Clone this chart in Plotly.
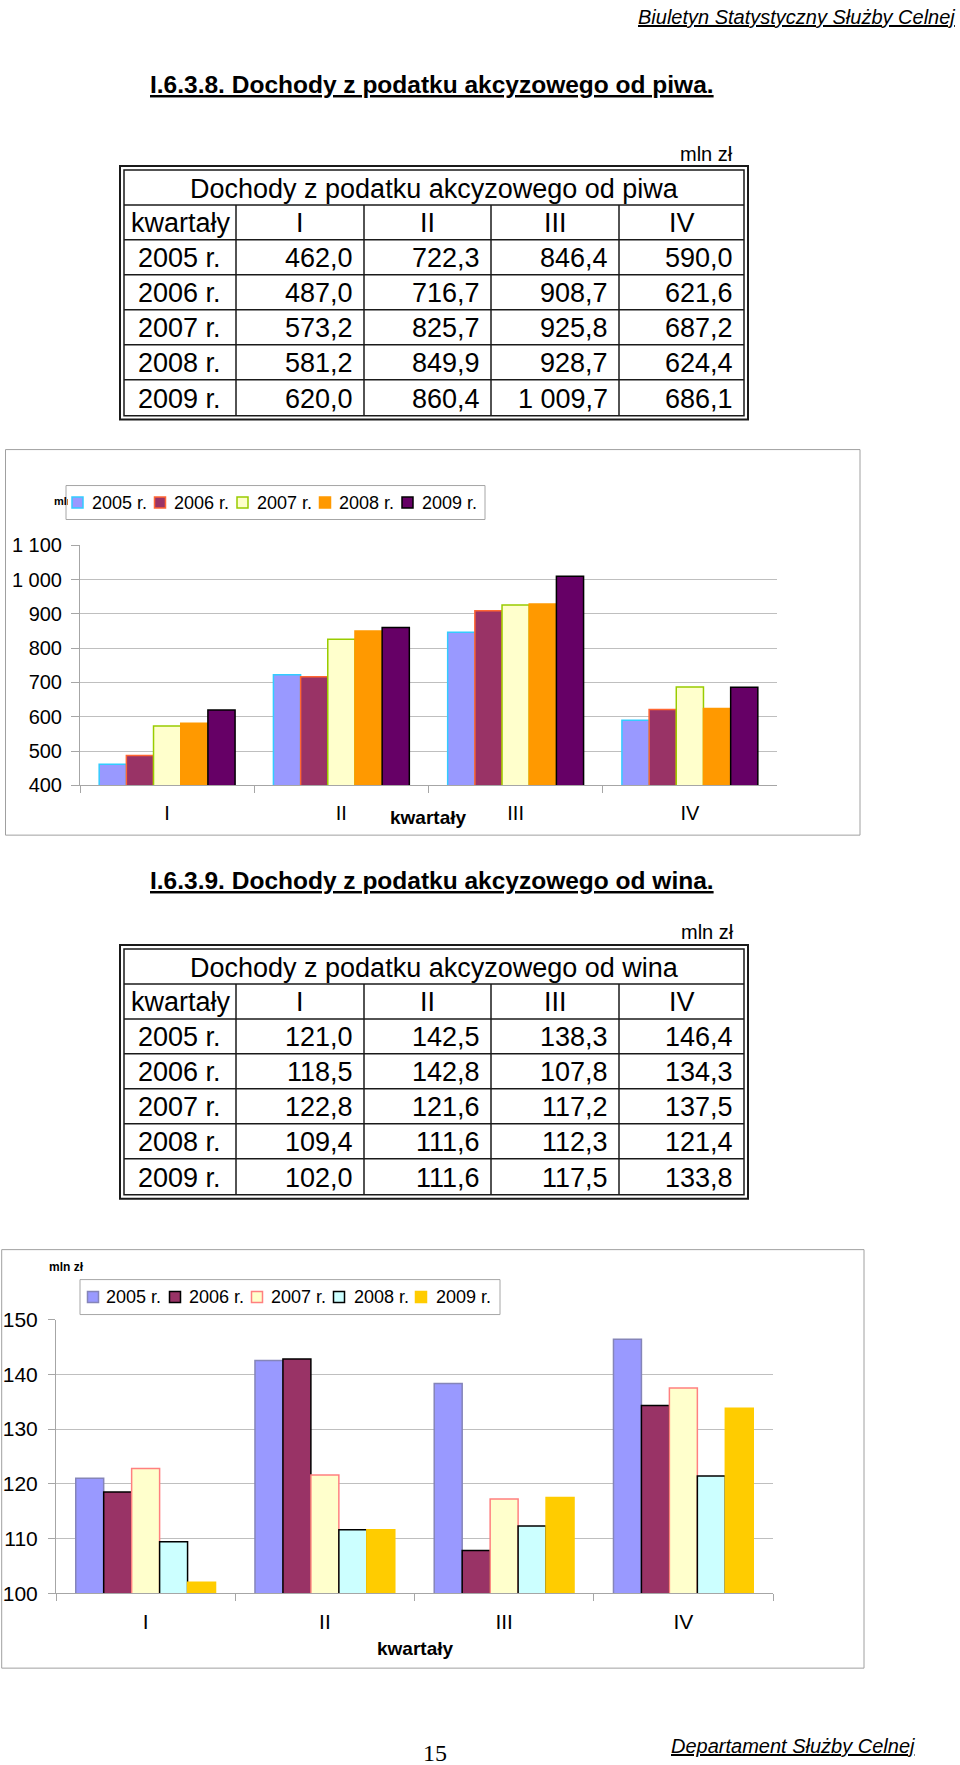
import plotly.graph_objects as go

# ---------------- data ----------------
quarters = ["I", "II", "III", "IV"]
years = ["2005 r.", "2006 r.", "2007 r.", "2008 r.", "2009 r."]

beer_2005 = [462.0, 722.3, 846.4, 590.0]
beer_2006 = [487.0, 716.7, 908.7, 621.6]
beer_2007 = [573.2, 825.7, 925.8, 687.2]
beer_2008 = [581.2, 849.9, 928.7, 624.4]
beer_2009 = [620.0, 860.4, 1009.7, 686.1]

wine_2005 = [121.0, 142.5, 138.3, 146.4]
wine_2006 = [118.5, 142.8, 107.8, 134.3]
wine_2007 = [122.8, 121.6, 117.2, 137.5]
wine_2008 = [109.4, 111.6, 112.3, 121.4]
wine_2009 = [102.0, 111.6, 117.5, 133.8]

beer_tickvals = [400, 500, 600, 700, 800, 900, 1000, 1100]
beer_ticktext = ["400", "500", "600", "700", "800", "900", "1 000", "1 100"]
wine_tickvals = [100, 110, 120, 130, 140, 150]
wine_ticktext = ["100", "110", "120", "130", "140", "150"]

header_text = "Biuletyn Statystyczny Służby Celnej"
footer_text = "Departament Służby Celnej"
page_number = "15"
beer_title = "I.6.3.8. Dochody z podatku akcyzowego od piwa."
wine_title = "I.6.3.9. Dochody z podatku akcyzowego od wina."
beer_table_title = "Dochody z podatku akcyzowego od piwa"
wine_table_title = "Dochody z podatku akcyzowego od wina"
unit = "mln zł"
axis_name = "kwartały"

beer_series = [beer_2005, beer_2006, beer_2007, beer_2008, beer_2009]
wine_series = [wine_2005, wine_2006, wine_2007, wine_2008, wine_2009]

# ---------------- style ----------------
W, H = 960, 1765
FONT = "Liberation Sans, Arial, sans-serif"
beer_fill = ["#9999FF", "#993366", "#FFFFCC", "#FF9900", "#660066"]
beer_line = ["#33CCFF", "#FF6633", "#99CC00", "#FF9900", "#000000"]
wine_fill = ["#9999FF", "#993366", "#FFFFCC", "#CCFFFF", "#FFCC00"]
wine_line = ["#8585B8", "#000000", "#FF8080", "#000000", "#FFCC00"]
GRID = "#BFBFBF"
AXIS = "#A6A6A6"


def px_x(x):
    return x / W


def px_y(y):
    y = y * 1.012 - 9
    return 1 - y / H


def fmt(v):
    s = f"{v:,.1f}"
    return s.replace(",", " ").replace(".", ",")


fig = go.Figure()

for i, yr in enumerate(years):
    fig.add_trace(go.Bar(
        x=quarters, y=beer_series[i], name=yr,
        marker=dict(color=beer_fill[i], line=dict(color=beer_line[i], width=1.5)),
        xaxis="x", yaxis="y", hoverinfo="skip"))
for i, yr in enumerate(years):
    fig.add_trace(go.Bar(
        x=quarters, y=wine_series[i], name=yr,
        marker=dict(color=wine_fill[i], line=dict(color=wine_line[i], width=1.5)),
        xaxis="x2", yaxis="y2", hoverinfo="skip"))

shapes = []
annotations = []


def line(x0, y0, x1, y1, w=1.5, color="#1a1a1a"):
    shapes.append(dict(type="line", xref="paper", yref="paper",
                       x0=px_x(x0), y0=px_y(y0), x1=px_x(x1), y1=px_y(y1),
                       line=dict(color=color, width=w)))


def rect(x0, y0, x1, y1, w=1, color="#1a1a1a", fill=None, layer="below"):
    shapes.append(dict(type="rect", xref="paper", yref="paper",
                       x0=px_x(x0), y0=px_y(y0), x1=px_x(x1), y1=px_y(y1),
                       line=dict(color=color, width=w), layer=layer,
                       fillcolor=fill if fill else "rgba(0,0,0,0)"))


def text(x, y, s, size=27, anchor="center", family=FONT, color="#000000", **kw):
    annotations.append(dict(xref="paper", yref="paper", x=px_x(x), y=px_y(y),
                            text=s, showarrow=False, xanchor=anchor, yanchor="middle",
                            font=dict(family=family, size=size, color=color), **kw))


def add_table(top, title, series):
    o_l, o_r, i_l, i_r = 120, 748, 124, 744
    i_t = top + 4
    rows = [top + 39 + 35 * k for k in range(6)]
    i_b, o_b = top + 250, top + 254
    cols = [236, 364, 491, 619]
    rect(o_l, top, o_r, o_b, w=2)
    rect(i_l, i_t, i_r, i_b, w=1.5)
    for r in rows:
        line(i_l, r, i_r, r)
    for c in cols:
        line(c, rows[0], c, i_b)
    text((i_l + i_r) / 2, (i_t + rows[0]) / 2 + 1.5, title)
    text(i_l + 5, (rows[0] + rows[1]) / 2 + 1, axis_name, anchor="left")
    edges = cols + [i_r]
    for q in range(4):
        text((edges[q] + edges[q + 1]) / 2, (rows[0] + rows[1]) / 2 + 1, quarters[q])
    bounds = rows[1:] + [i_b]
    for k in range(5):
        yc = (bounds[k] + bounds[k + 1]) / 2 + 1
        text(179, yc, years[k])
        for q in range(4):
            text(edges[q + 1] - 9, yc, fmt(series[k][q]), anchor="right")


def add_legend(box, yc, sw_x0, sw_pitch, tx_x0, tx_pitch, fills, lines):
    rect(*box, w=1, color="#A6A6A6", fill="white", layer="above")
    for k in range(len(years)):
        cx = sw_x0 + sw_pitch * k
        rect(cx - 5.5, yc - 5.5, cx + 5.5, yc + 5.5, w=1.5, color=lines[k],
             fill=fills[k], layer="above")
        text(tx_x0 + tx_pitch * k, yc, years[k], size=18, anchor="left")


# page texts
text(957, 14, f"<i><u>{header_text}</u></i>", size=20, anchor="right")
text(148, 81, f"<b><u>{beer_title}</u></b>", size=24.5, anchor="left")
text(735, 151, unit, size=20, anchor="right")
add_table(163, beer_table_title, beer_series)

# chart 1 frame, unit label & legend
rect(5.5, 447, 860, 833, w=1, color="#A0A0A0")
text(52, 498, f"<b>{unit}</b>", size=11, anchor="left", width=14, align="left")
add_legend((66, 483, 485, 517), 500, 77.5, 82.5, 90, 82.4, beer_fill, beer_line)
annotations.append(dict(xref="x domain", yref="paper", x=0.5, y=px_y(815),
                        text=f"<b>{axis_name}</b>", showarrow=False,
                        xanchor="center", yanchor="middle",
                        font=dict(family=FONT, size=19, color="#000000")))

text(148, 878, f"<b><u>{wine_title}</u></b>", size=24.5, anchor="left")
text(736, 930, unit, size=20, anchor="right")
add_table(943, wine_table_title, wine_series)

# chart 2 frame, unit label & legend
rect(1.7, 1248, 864, 1667, w=1, color="#A0A0A0")
text(47, 1265, f"<b>{unit}</b>", size=12, anchor="left")
add_legend((80, 1278, 500, 1313), 1295.5, 93, 82, 104, 82.5, wine_fill, wine_line)
annotations.append(dict(xref="x2 domain", yref="paper", x=0.5, y=px_y(1647),
                        text=f"<b>{axis_name}</b>", showarrow=False,
                        xanchor="center", yanchor="middle",
                        font=dict(family=FONT, size=19, color="#000000")))

# footer
text(434.5, 1752, page_number, size=24, family="Liberation Serif, Times New Roman, serif")
text(917, 1745, f"<i><u>{footer_text}</u></i>", size=20, anchor="right")

yaxis_common = dict(showline=True, linecolor=AXIS, linewidth=1, ticks="outside",
                    tickcolor=AXIS, showgrid=True, gridcolor=GRID, gridwidth=1,
                    zeroline=False, fixedrange=True)
xaxis_common = dict(type="category", showline=True, linecolor=AXIS, linewidth=1,
                    ticks="outside", tickson="boundaries", tickcolor=AXIS, ticklen=7,
                    showgrid=False, fixedrange=True)

fig.update_layout(
    width=W, height=H, autosize=False,
    margin=dict(l=0, r=0, t=0, b=0),
    paper_bgcolor="white", plot_bgcolor="white",
    font=dict(family=FONT, color="#000000"),
    barmode="group", bargap=0.22, bargroupgap=0,
    showlegend=False,
    xaxis=dict(domain=[px_x(80), px_x(777)], anchor="y",
               tickfont=dict(size=20), ticklabelstandoff=10, **xaxis_common),
    yaxis=dict(domain=[px_y(783.3), px_y(542.7)], anchor="x", range=[400, 1100],
               tickvals=beer_tickvals, ticktext=beer_ticktext, ticklen=8,
               tickfont=dict(size=20), ticklabelstandoff=5, **yaxis_common),
    xaxis2=dict(domain=[px_x(56), px_x(773)], anchor="y2",
                tickfont=dict(size=21), ticklabelstandoff=10, **xaxis_common),
    yaxis2=dict(domain=[px_y(1592), px_y(1318)], anchor="x2", range=[100, 150],
                tickvals=wine_tickvals, ticktext=wine_ticktext, ticklen=7,
                tickfont=dict(size=21), ticklabelstandoff=6, **yaxis_common),
    shapes=shapes,
    annotations=annotations,
)

fig.write_html("out.html", config={"displayModeBar": False},
               post_script="document.body.style.margin='0';document.body.style.overflow='hidden';")
